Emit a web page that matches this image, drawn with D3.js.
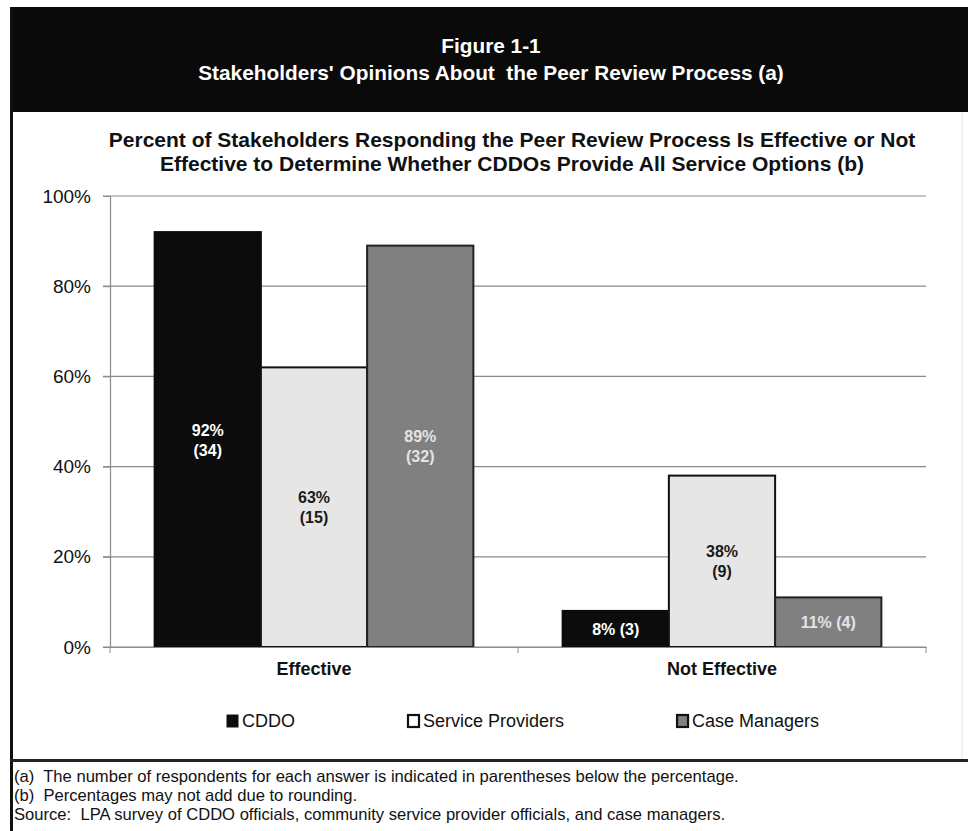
<!DOCTYPE html>
<html>
<head>
<meta charset="utf-8">
<script src="https://cdn.jsdelivr.net/npm/d3@7/dist/d3.min.js"></script>
<style>
  body { margin: 0; background: #fff; }
  svg { display: block; font-family: "Liberation Sans", Arial, sans-serif; }
</style>
</head>
<body>
<svg id="chart" width="968" height="831"></svg>
<script>
// values
const categories = ["Effective", "Not Effective"]
const series = ["CDDO", "Service Providers", "Case Managers"]
const effective = [92, 62, 89]
const notEffective = [8, 38, 11]
const effectiveLabels = ["92%", "63%", "89%"]
const notEffectiveLabels = ["8%", "38%", "11%"]
const effectiveCounts = [34, 15, 32]
const notEffectiveCounts = [3, 9, 4]
const yTicks = [0, 20, 40, 60, 80, 100]
const notes = [
	"(a)  The number of respondents for each answer is indicated in parentheses below the percentage.",
	"(b)  Percentages may not add due to rounding.",
	"Source:  LPA survey of CDDO officials, community service provider officials, and case managers."
]

const fills = ["#0c0c0c", "#e6e6e6", "#808080"]
const strokes = ["#0c0c0c", "#111", "#222"]
const labelColors = ["#fff", "#1a1a1a", "#e4e4e4"]

const rows = categories.map((c, i) => ({
	category: c,
	values: series.map((s, j) => ({
		series: s,
		idx: j,
		value: i === 0 ? effective[j] : notEffective[j],
		pct: i === 0 ? effectiveLabels[j] : notEffectiveLabels[j],
		count: i === 0 ? effectiveCounts[j] : notEffectiveCounts[j],
		twoLines: i === 0 || j === 1
	}))
}))

const svg = d3.select("#chart")

// header band
svg.append("rect")
	.attr("x", 10).attr("y", 7)
	.attr("width", 958).attr("height", 105)
	.attr("fill", "#0a0a0a")

svg.append("text")
	.attr("x", 491).attr("y", 53)
	.attr("text-anchor", "middle")
	.attr("fill", "#fff")
	.style("font-size", "20.8px")
	.style("font-weight", "bold")
	.text("Figure 1-1")

svg.append("text")
	.attr("x", 491).attr("y", 80)
	.attr("text-anchor", "middle")
	.attr("fill", "#fff")
	.style("font-size", "20.8px")
	.style("font-weight", "bold")
	.style("white-space", "pre")
	.text("Stakeholders' Opinions About  the Peer Review Process (a)")

// left border and separator
svg.append("rect")
	.attr("x", 10).attr("y", 7)
	.attr("width", 3).attr("height", 824)
	.attr("fill", "#111")

svg.append("rect")
	.attr("x", 10).attr("y", 759)
	.attr("width", 958).attr("height", 3)
	.attr("fill", "#222")

svg.append("line")
	.attr("x1", 962).attr("x2", 962)
	.attr("y1", 112).attr("y2", 759)
	.attr("stroke", "#e2e2e2")

// chart title
const titleLines = [
	"Percent of Stakeholders Responding the Peer Review Process Is Effective or Not",
	"Effective to Determine Whether CDDOs Provide All Service Options (b)"
]
svg.selectAll(".title")
	.data(titleLines)
	.enter()
	.append("text")
		.attr("class", "title")
		.attr("x", 512)
		.attr("y", (d, i) => 147 + i * 24)
		.attr("text-anchor", "middle")
		.attr("fill", "#111")
		.style("font-size", "21px")
		.style("font-weight", "bold")
		.text(d => d)

const margin = {top: 196, left: 110, right: 926, bottom: 647}

const y = d3.scaleLinear()
	.domain([0, 100])
	.range([margin.bottom, margin.top])

const x0 = d3.scaleBand()
	.domain(categories)
	.range([margin.left, margin.right])

const x1 = d3.scaleBand()
	.domain(series)
	.range([0, x0.bandwidth()])
	.paddingOuter(0.42)

// gridlines
svg.append("g")
	.selectAll("line")
	.data(yTicks)
	.enter()
	.append("line")
		.attr("x1", margin.left - 7)
		.attr("x2", margin.right)
		.attr("y1", d => y(d))
		.attr("y2", d => y(d))
		.attr("stroke", "#8a8a8a")
		.attr("stroke-width", 1.2)

// y axis
const yAxis = svg.append("g")
	.attr("transform", `translate(${margin.left},0)`)
	.call(d3.axisLeft(y).tickValues(yTicks).tickSize(7).tickFormat(d => d + "%"))
yAxis.select(".domain").attr("stroke", "#8a8a8a").attr("stroke-width", 1.2)
yAxis.selectAll(".tick line").attr("stroke", "#8a8a8a")
yAxis.selectAll(".tick text")
	.attr("x", -19)
	.attr("fill", "#111")
	.style("font-size", "19px")
	.style("font-family", "Liberation Sans, Arial, sans-serif")

// bars
const groups = svg.append("g")
	.selectAll("g")
	.data(rows)
	.enter()
	.append("g")
		.attr("transform", d => `translate(${x0(d.category)},0)`)

groups.selectAll("rect")
	.data(d => d.values)
	.enter()
	.append("rect")
		.attr("x", d => x1(d.series))
		.attr("y", d => y(d.value))
		.attr("width", x1.bandwidth())
		.attr("height", d => y(0) - y(d.value))
		.attr("fill", d => fills[d.idx])
		.attr("stroke", d => strokes[d.idx])
		.attr("stroke-width", 2)

const labels = groups.selectAll("text")
	.data(d => d.values)
	.enter()
	.append("text")
		.attr("x", d => x1(d.series) + x1.bandwidth() / 2)
		.attr("y", d => (y(d.value) + y(0)) / 2)
		.attr("text-anchor", "middle")
		.attr("fill", d => labelColors[d.idx])
		.style("font-size", "16px")
		.style("font-weight", "bold")

labels.each(function (d) {
	const t = d3.select(this)
	if (d.twoLines) {
		t.append("tspan").attr("x", t.attr("x")).attr("dy", "-0.25em").text(d.pct)
		t.append("tspan").attr("x", t.attr("x")).attr("dy", "1.25em").text(`(${d.count})`)
	} else {
		t.attr("dy", "0.36em").text(`${d.pct} (${d.count})`)
	}
})

// x axis
const xAxis = svg.append("g")
	.attr("transform", `translate(0,${margin.bottom})`)
	.call(d3.axisBottom(x0).tickSize(0).tickPadding(15))
xAxis.select(".domain").attr("stroke", "#8a8a8a").attr("stroke-width", 1.2)
xAxis.selectAll(".tick text")
	.attr("fill", "#111")
	.style("font-size", "18px")
	.style("font-weight", "bold")
	.style("font-family", "Liberation Sans, Arial, sans-serif")

const boundaries = categories.map(c => x0(c)).concat([x0.range()[1]])
xAxis.selectAll(".bound")
	.data(boundaries)
	.enter()
	.append("line")
		.attr("class", "bound")
		.attr("x1", d => d).attr("x2", d => d)
		.attr("y1", 0).attr("y2", 6)
		.attr("stroke", "#8a8a8a")

// legend, items separated by equal gaps like the original
const legend = svg.append("g").attr("transform", "translate(226,721)")
let cursor = 0
series.forEach((s, i) => {
	const item = legend.append("g").attr("transform", `translate(${cursor},0)`)
	item.append("rect")
		.attr("x", 1).attr("y", -6)
		.attr("width", 11).attr("height", 12)
		.attr("fill", i === 1 ? "#fff" : fills[i])
		.attr("stroke", "#111")
		.attr("stroke-width", i === 0 ? 1 : 2.2)
	const txt = item.append("text")
		.attr("x", 16)
		.attr("dy", "0.36em")
		.attr("fill", "#111")
		.style("font-size", "18px")
		.text(s)
	cursor += 16 + txt.node().getComputedTextLength() + 112
})

// notes
svg.selectAll(".note")
	.data(notes)
	.enter()
	.append("text")
		.attr("class", "note")
		.attr("x", 14)
		.attr("y", (d, i) => 782 + i * 19)
		.attr("fill", "#111")
		.style("font-size", "16.6px")
		.style("white-space", "pre")
		.text(d => d)
</script>
</body>
</html>
